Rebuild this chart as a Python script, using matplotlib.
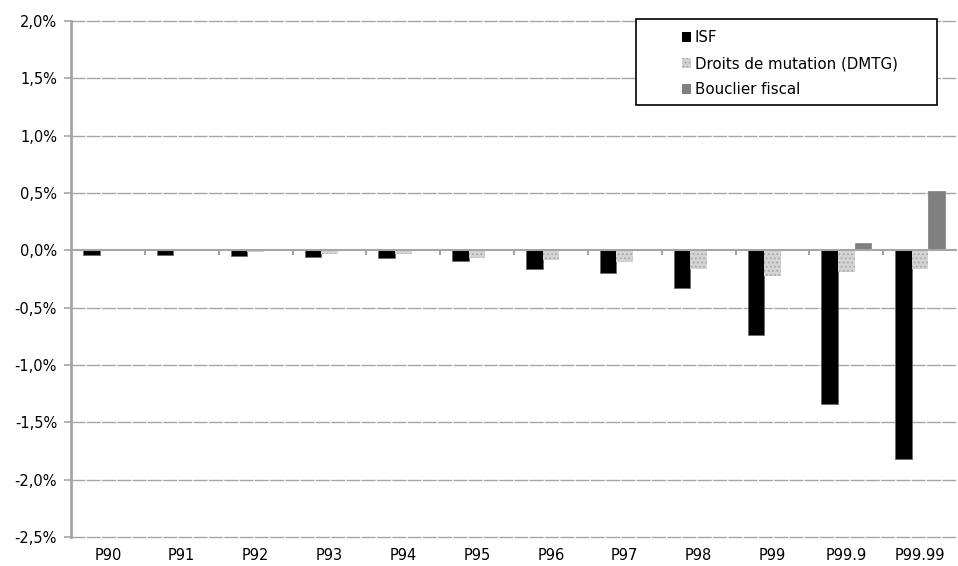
import numpy as np
import matplotlib as mpl
import matplotlib.pyplot as plt
from matplotlib.patches import Rectangle, Patch
from matplotlib.ticker import FuncFormatter

# Data (in %)
categories = ['P90', 'P91', 'P92', 'P93', 'P94', 'P95', 'P96', 'P97', 'P98', 'P99', 'P99.9', 'P99.99']
isf = [-0.04, -0.04, -0.05, -0.06, -0.07, -0.09, -0.16, -0.20, -0.33, -0.74, -1.34, -1.82]
dmtg = [0.0, -0.01, -0.015, -0.03, -0.035, -0.065, -0.085, -0.10, -0.16, -0.22, -0.19, -0.16]
bouclier = [0.0, 0.0, 0.0, 0.0, 0.0, 0.0, 0.0, 0.0, 0.0, 0.0, 0.06, 0.52]
series_labels = ['ISF', 'Droits de mutation (DMTG)', 'Bouclier fiscal']

mpl.rcParams['font.family'] = 'DejaVu Sans'
mpl.rcParams['hatch.linewidth'] = 0.8

fig = plt.figure(figsize=(9.58, 5.66), dpi=100)
ax = fig.add_axes([0.0741, 0.0512, 0.9249, 0.9118])

x = np.arange(len(categories))
w = 0.225
grid_col = '#a6a6a6'
dmtg_face = '#d4d4d4'
dmtg_hatch = '#a8a8a8'

# gridlines
yticks = np.arange(-2.5, 2.01, 0.5)
for yv in yticks:
    if abs(yv) > 1e-9:
        ax.axhline(yv, color=grid_col, lw=1.0, ls=(0, (10, 1)), zorder=0, clip_on=False)

ax.bar(x - w, isf, width=w, color='black', edgecolor='#666666', lw=0.5, zorder=3)
ax.bar(x, dmtg, width=w, facecolor=dmtg_face, edgecolor=dmtg_hatch, hatch='....', lw=0, zorder=3)
ax.bar(x + w, bouclier, width=w, color='#808080', edgecolor='#808080', lw=0.5, zorder=3)

ax.set_xlim(-0.5, len(categories) - 0.5)
ax.set_ylim(-2.5, 2.0)

# zero axis line with category boundary ticks
ax.axhline(0, color=grid_col, lw=1.5, zorder=4)
for b in np.arange(0.5, len(categories) - 0.5, 1.0):
    ax.plot([b, b], [-0.04, 0], color=grid_col, lw=1.5, zorder=4, solid_capstyle='butt')

ax.set_yticks(yticks)
ax.yaxis.set_major_formatter(FuncFormatter(lambda v, p: ('%.1f%%' % v).replace('.', ',')))
ax.tick_params(axis='y', length=5, color=grid_col, width=1.2, labelsize=10.5, pad=5)
ax.set_xticks([])

for s in ['top', 'right', 'bottom']:
    ax.spines[s].set_visible(False)
ax.spines['left'].set_color(grid_col)
ax.spines['left'].set_linewidth(2)

# category labels at the bottom
for i, c in enumerate(categories):
    ax.text(i, -0.022, c, transform=ax.get_xaxis_transform(), ha='center', va='top', fontsize=10.5)

# legend with custom frame
fig.patches.append(Rectangle((636 / 958, 1 - 105 / 566), 301 / 958, 86 / 566,
                             transform=fig.transFigure, fill=True, facecolor='white',
                             edgecolor='black', lw=1.2, zorder=5))
handles = [Patch(facecolor='black'),
           Patch(facecolor=dmtg_face, hatch='....', edgecolor=dmtg_hatch, lw=0),
           Patch(facecolor='#808080')]
fig.legend(handles, series_labels, loc='upper left', bbox_to_anchor=(671 / 958, 1 - 20 / 566),
           frameon=False, fontsize=10.8, handlelength=0.6, handleheight=0.6,
           handletextpad=0.3, labelspacing=0.72, borderpad=0.2)

fig.savefig('out.png', dpi=100)
plt.close()
